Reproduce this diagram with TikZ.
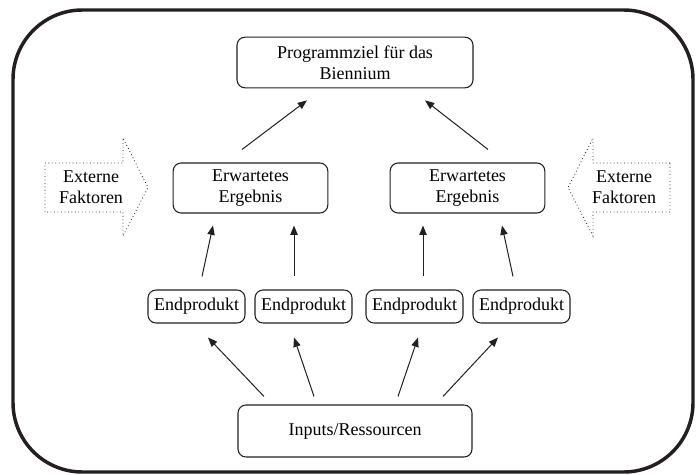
\documentclass[tikz,border=0pt]{standalone}
\usepackage{fontspec}
\setmainfont{Liberation Serif}
\usepackage{tikz}
\usetikzlibrary{arrows.meta, positioning, calc}
\definecolor{framegray}{RGB}{35, 31, 32}

\begin{document}
\begin{tikzpicture}[x=0.75pt, y=-0.75pt,
    every node/.style={font=\fontsize{13.5}{15.5}\selectfont, align=center},
    box/.style={draw=framegray, line width=0.8pt, rounded corners=6pt, inner sep=2pt},
    arr/.style={draw=framegray, line width=0.75pt, -{Triangle[length=7pt, width=5.5pt]}},
    extarrow/.style={draw=framegray, dotted, line width=0.6pt}]
    \useasboundingbox (0,0) rectangle (698,474);

    % Outer frame
    \draw[framegray, line width=2.6pt, rounded corners=52pt] (13,10) rectangle (693,472);

    % Boxes
    \node[box, minimum width=177pt, minimum height=38pt] (ziel) at (355,62.5)
        {Programmziel f\"ur das\\Biennium};
    \node[box, minimum width=116pt, minimum height=37.5pt] (erg1) at (250.5,188)
        {Erwartetes\\Ergebnis};
    \node[box, minimum width=116pt, minimum height=37.5pt] (erg2) at (467.5,188)
        {Erwartetes\\Ergebnis};
    \node[box, minimum width=72.75pt, minimum height=24.75pt] (end1) at (196.5,306.5) {Endprodukt};
    \node[box, minimum width=72.75pt, minimum height=24.75pt] (end2) at (303.5,306.5) {Endprodukt};
    \node[box, minimum width=72.75pt, minimum height=24.75pt] (end3) at (414.5,306.5) {Endprodukt};
    \node[box, minimum width=72.75pt, minimum height=24.75pt] (end4) at (521.5,306.5) {Endprodukt};
    \node[box, minimum width=175.5pt, minimum height=39pt] (inp) at (355,431) {Inputs/Ressourcen};

    % External factors (dotted block arrows)
    \draw[extarrow] (45,163) -- (123,163) -- (123,138) -- (148,187.5)
        -- (123,236) -- (123,212) -- (45,212) -- cycle;
    \node (ext1) at (91,187.5) {Externe\\Faktoren};
    \draw[extarrow] (670,163) -- (593,163) -- (593,138) -- (568,187.5)
        -- (593,236) -- (593,212) -- (670,212) -- cycle;
    \node (ext2) at (624,187.5) {Externe\\Faktoren};

    % Inputs to end products
    \draw[arr] ($(inp.north)+(-91,-8)$) -- ($(end1.south)+(11.5,14)$);
    \draw[arr] ($(inp.north)+(-41,-8)$) -- ($(end2.south)+(-9.5,14)$);
    \draw[arr] ($(inp.north)+(43,-8)$) -- ($(end3.south)+(3.5,14)$);
    \draw[arr] ($(inp.north)+(88,-8)$) -- ($(end4.south)+(-23.5,14)$);

    % End products to expected results
    \draw[arr] ($(end1.north)+(5.5,-13)$) -- ($(erg1.south)+(-37.5,12)$);
    \draw[arr] ($(end2.north)+(-9.5,-13)$) -- ($(erg1.south)+(43.5,12)$);
    \draw[arr] ($(end3.north)+(8.5,-13)$) -- ($(erg2.south)+(-44.5,12)$);
    \draw[arr] ($(end4.north)+(-8.5,-13)$) -- ($(erg2.south)+(34.5,12)$);

    % Expected results to programme goal
    \draw[arr] ($(erg1.north)+(-8.5,-13)$) -- ($(ziel.south)+(-48,12)$);
    \draw[arr] ($(erg2.north)+(20.5,-13)$) -- ($(ziel.south)+(70,12)$);

\end{tikzpicture}
\end{document}
